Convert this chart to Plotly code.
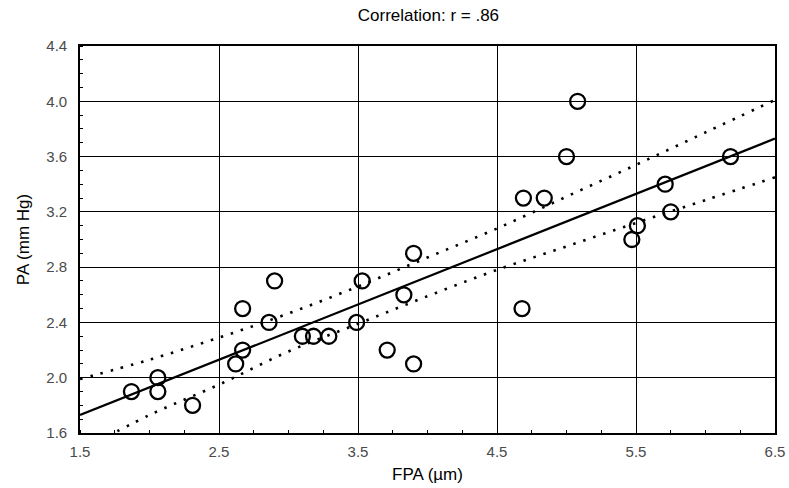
import plotly.graph_objects as go

# Data points
fpa = [1.87, 2.06, 2.06, 2.31, 2.62, 2.67, 2.67, 2.86, 2.90, 3.10, 3.18, 3.29,
       3.49, 3.53, 3.71, 3.83, 3.90, 3.90, 4.68, 4.69, 4.84, 5.00, 5.08, 5.47,
       5.51, 5.71, 5.75, 6.18]
pa = [1.9, 2.0, 1.9, 1.8, 2.1, 2.2, 2.5, 2.4, 2.7, 2.3, 2.3, 2.3,
      2.4, 2.7, 2.2, 2.6, 2.1, 2.9, 2.5, 3.3, 3.3, 3.6, 4.0, 3.0,
      3.1, 3.4, 3.2, 3.6]

# Regression line and confidence band
fit_x = [1.5, 6.5]
fit_y = [1.73, 3.73]
band_x = [1.5, 2.0, 2.5, 3.0, 3.5, 4.0, 4.5, 5.0, 5.5, 6.0, 6.5]
band_upper = [1.99, 2.13, 2.29, 2.465, 2.66, 2.87, 3.08, 3.31, 3.54, 3.775, 4.01]
band_lower = [1.47, 1.73, 1.95, 2.19, 2.39, 2.59, 2.78, 2.95, 3.12, 3.285, 3.45]

x_ticks = [1.5, 2.5, 3.5, 4.5, 5.5, 6.5]
y_ticks = [1.6, 2.0, 2.4, 2.8, 3.2, 3.6, 4.0, 4.4]

FONT = "Liberation Sans, Arial, sans-serif"

fig = go.Figure()
dot_style = dict(color="black", width=2.6, dash="2.5px,8px", shape="spline")
fig.add_trace(go.Scatter(x=band_x, y=band_upper, mode="lines", line=dot_style,
                         hoverinfo="skip"))
fig.add_trace(go.Scatter(x=band_x, y=band_lower, mode="lines", line=dot_style,
                         hoverinfo="skip"))
fig.add_trace(go.Scatter(x=fit_x, y=fit_y, mode="lines",
                         line=dict(color="black", width=2.2)))
fig.add_trace(go.Scatter(x=fpa, y=pa, mode="markers",
                         marker=dict(symbol="circle-open", size=15,
                                     color="black", line=dict(width=2.3))))

axis_common = dict(
    showgrid=True, gridcolor="black", gridwidth=1.3,
    showline=True, linecolor="black", linewidth=1.6, mirror=True,
    ticks="", zeroline=False, automargin=False,
    tickfont=dict(family=FONT, size=15, color="#4a4a4a"),
)

fig.update_xaxes(range=[1.5, 6.5], tickvals=x_ticks,
                 ticktext=[f"{v:.1f}" for v in x_ticks],
                 ticklabelstandoff=4,
                 title=dict(text="FPA (µm)", standoff=9,
                            font=dict(family=FONT, size=17, color="black")),
                 minor=dict(ticks="inside", ticklen=3, tickcolor="black",
                            dtick=0.25, tick0=1.5, showgrid=False),
                 **axis_common)
fig.update_yaxes(range=[1.6, 4.4], tickvals=y_ticks,
                 ticktext=[f"{v:.1f}" for v in y_ticks],
                 ticklabelstandoff=8,
                 title=dict(text="PA (mm Hg)", standoff=12,
                            font=dict(family=FONT, size=17, color="black")),
                 minor=dict(ticks="inside", ticklen=3, tickcolor="black",
                            dtick=0.1, tick0=1.6, showgrid=False),
                 **axis_common)

fig.update_layout(
    width=789, height=488,
    margin=dict(l=80, r=14, t=46, b=55),
    paper_bgcolor="white", plot_bgcolor="white",
    showlegend=False,
    title=dict(text="Correlation: r = .86", x=0.543, xanchor="center",
               y=0.969, yanchor="middle",
               font=dict(family=FONT, size=17, color="black")),
)

fig.write_html("out.html")
